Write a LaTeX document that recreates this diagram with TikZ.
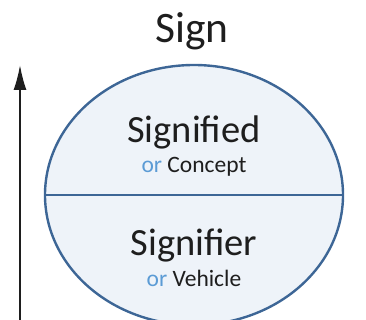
\documentclass[tikz,border=0pt]{standalone}
\usepackage{fontspec}
\setmainfont{Carlito}
\usetikzlibrary{arrows.meta}
\definecolor{edge}{HTML}{3D6696}
\definecolor{fillc}{HTML}{EEF3F9}
\definecolor{orc}{HTML}{5B9BD5}
\definecolor{txt}{HTML}{1E1E1E}
\tikzset{
  big/.style={font=\fontsize{38.5}{42}\selectfont, text=txt, inner sep=0pt, anchor=base},
  small/.style={font=\fontsize{23.5}{26}\selectfont, text=txt, inner sep=0pt, anchor=base},
}
\begin{document}
\begin{tikzpicture}[x=1pt,y=-1pt]
\useasboundingbox (0,0) rectangle (366,320);
\begin{scope}
\clip (0,0) rectangle (366,320);
\draw[edge, fill=fillc, line width=2.4pt] (194,195) ellipse [x radius=149, y radius=130];
\end{scope}
\coordinate (dl) at (45,195);
\coordinate (dr) at (343,195);
\draw[edge, line width=2.4pt] (dl) -- (dr);
\coordinate (abot) at (20,322);
\coordinate (atop) at (20,65);
\draw[txt, line width=1.8pt, -{Latex[length=25pt, width=13pt]}] (abot) -- (atop);
\node[big, font=\fontsize{43.5}{46}\selectfont] (sign) at (192,43) {Sign};
\node[big] (sd) at (194,143) {Signified};
\node[small] (cc) at (194,173) {\textcolor{orc}{or} Concept};
\node[big] (sr) at (194,255) {Signifier};
\node[small] (vh) at (194,286) {\textcolor{orc}{or} Vehicle};
\end{tikzpicture}
\end{document}
